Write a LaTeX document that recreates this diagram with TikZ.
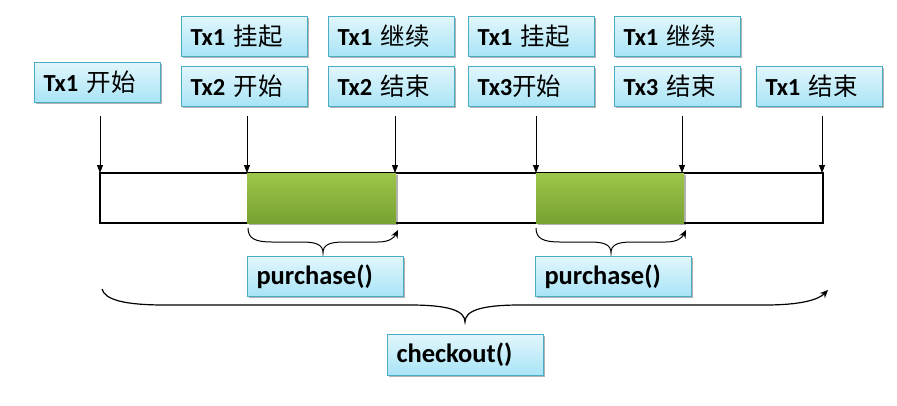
\documentclass[tikz,border=0pt]{standalone}
\usepackage{fontspec}
\setmainfont{Carlito}
\newfontfamily\cjk{Noto Sans CJK SC}
\usetikzlibrary{arrows.meta,shadows}
\definecolor{boxTop}{HTML}{E2F6FC}
\definecolor{boxBottom}{HTML}{A8E4F6}
\definecolor{boxEdge}{HTML}{4BACC6}
\definecolor{greenTop}{HTML}{9DC64A}
\definecolor{greenBottom}{HTML}{78A232}
\tikzset{
  txbox/.style={draw=boxEdge, line width=1pt, top color=boxTop, bottom color=boxBottom,
    anchor=north west, text width=108pt, inner xsep=9pt, inner ysep=0pt,
    minimum height=40pt, align=left, font=\fontsize{24.5}{26}\selectfont,
    drop shadow={shadow xshift=1.5pt, shadow yshift=-1.5pt, opacity=0.3, fill=black}},
  callbox/.style={txbox, text width=138pt, font=\fontsize{26.5}{28}\selectfont},
  tickarrow/.style={-{Triangle[length=8pt,width=6pt]}, line width=0.8pt},
  brace/.style={-{Stealth[length=8pt,width=7pt]}, line width=1pt},
}

\begin{document}
\begin{tikzpicture}[x=1pt, y=-1pt]
        \useasboundingbox (0,0) rectangle (897,405);
        % event labels
        \node[txbox] (tA) at (34,62) {\textbf{Tx1} {\cjk 开始}};
        \node[txbox] (tB1) at (181,16) {\textbf{Tx1} {\cjk 挂起}};
        \node[txbox] (tB2) at (181,66) {\textbf{Tx2} {\cjk 开始}};
        \node[txbox] (tC1) at (328,16) {\textbf{Tx1} {\cjk 继续}};
        \node[txbox] (tC2) at (328,66) {\textbf{Tx2} {\cjk 结束}};
        \node[txbox] (tD1) at (468,16) {\textbf{Tx1} {\cjk 挂起}};
        \node[txbox] (tD2) at (468,66) {\textbf{Tx3}{\cjk 开始}};
        \node[txbox] (tE1) at (614,16) {\textbf{Tx1} {\cjk 继续}};
        \node[txbox] (tE2) at (614,66) {\textbf{Tx3} {\cjk 结束}};
        \node[txbox] (tF) at (756,66) {\textbf{Tx1} {\cjk 结束}};
        % time line
        \draw[line width=1.2pt, fill=white] (100,173) rectangle (823,223);
        \shade[top color=greenTop, bottom color=greenBottom, drop shadow={shadow xshift=1.5pt, shadow yshift=-1.5pt, opacity=0.3, fill=black}] (247,173) rectangle (396,223);
        \shade[top color=greenTop, bottom color=greenBottom, drop shadow={shadow xshift=1.5pt, shadow yshift=-1.5pt, opacity=0.3, fill=black}] (536,173) rectangle (684,223);
        \foreach \x/\n in {100/0, 247/1, 395/2, 536/3, 682/4, 822/5} {
          \coordinate (a\n) at (\x,116);
          \coordinate (b\n) at (\x,173);
          \draw[tickarrow] (a\n) -- (b\n);
        }
        % purchase braces
        \coordinate (p1s) at (248,228);
        \coordinate (p1m) at (323,253);
        \coordinate (p1e) at (398,230);
        \draw[brace] (p1s) .. controls (248,239) and (256,242) .. (272,242) -- (302,242)
          .. controls (317,242) and (323,245) .. (p1m)
          .. controls (323,245) and (329,242) .. (344,242) -- (378,242)
          .. controls (389,242) and (394,238) .. (p1e);
        \coordinate (p2s) at (536,228);
        \coordinate (p2m) at (611,253);
        \coordinate (p2e) at (686,230);
        \draw[brace] (p2s) .. controls (536,239) and (544,242) .. (560,242) -- (590,242)
          .. controls (605,242) and (611,245) .. (p2m)
          .. controls (611,245) and (617,242) .. (632,242) -- (666,242)
          .. controls (677,242) and (682,238) .. (p2e);
        \node[callbox] (pu1) at (247,256) {\textbf{purchase()}};
        \node[callbox] (pu2) at (535,256) {\textbf{purchase()}};
        % checkout brace
        \coordinate (c0s) at (102,289);
        \coordinate (c0m) at (465,322);
        \coordinate (c0e) at (828,290);
        \draw[brace, line width=1.2pt] (c0s) .. controls (105,300) and (125,305) .. (165,305) -- (410,305)
          .. controls (450,305) and (465,311) .. (c0m)
          .. controls (465,311) and (480,305) .. (520,305) -- (765,305)
          .. controls (800,305) and (818,300) .. (c0e);
        \node[callbox, minimum height=41pt] (co) at (387,334) {\textbf{checkout()}};
\end{tikzpicture}
\end{document}
